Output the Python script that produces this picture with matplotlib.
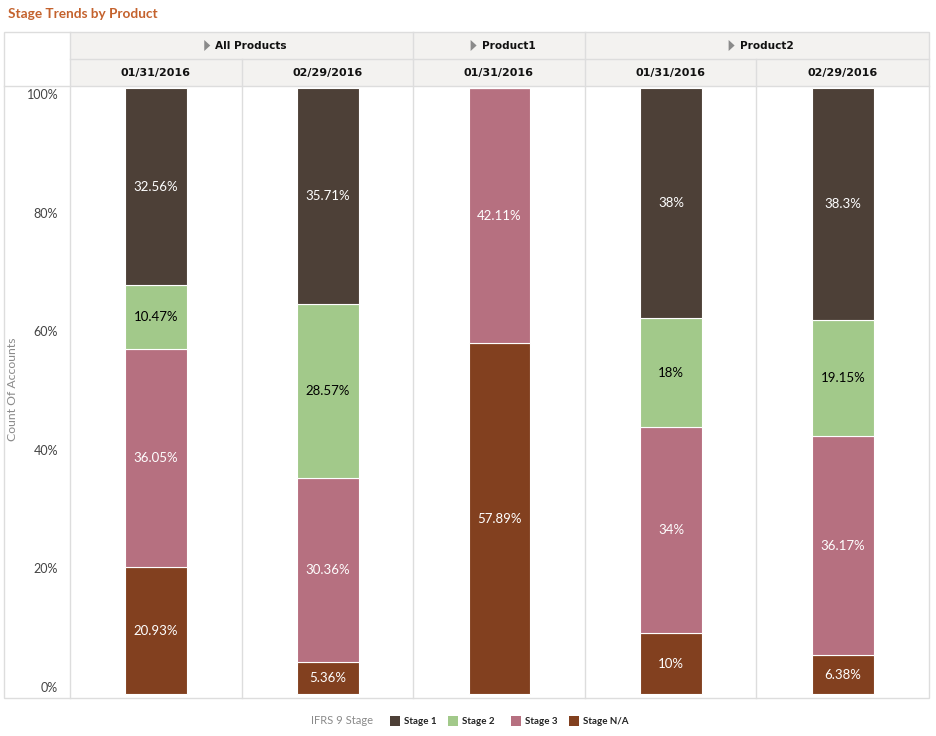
import numpy as np
import matplotlib
matplotlib.use("Agg")
from matplotlib import pyplot as plt
from matplotlib.patches import Rectangle, Polygon

# data
groups = ["All Products", "Product1", "Product2"]
group_sizes = [2, 1, 2]
dates = ["01/31/2016", "02/29/2016", "01/31/2016", "01/31/2016", "02/29/2016"]
stages = ["Stage 1", "Stage 2", "Stage 3", "Stage N/A"]
stage_na = [20.93, 5.36, 57.89, 10, 6.38]
stage_3 = [36.05, 30.36, 42.11, 34, 36.17]
stage_2 = [10.47, 28.57, 0, 18, 19.15]
stage_1 = [32.56, 35.71, 0, 38, 38.3]
ytick_labels = ["0%", "20%", "40%", "60%", "80%", "100%"]

colors = {"Stage 1": "#4D4037", "Stage 2": "#A2C98A",
          "Stage 3": "#B67080", "Stage N/A": "#82401F"}
text_colors = {"Stage 1": "white", "Stage 2": "black",
               "Stage 3": "white", "Stage N/A": "white"}

W, H = 937, 736
fig = plt.figure(figsize=(W / 100, H / 100), dpi=100)

def fx(px):
    return px / W

def fy(py):
    return 1 - py / H

# overlay in pixel coords for header table / frame / legend
ov = fig.add_axes([0, 0, 1, 1], zorder=0)
ov.set_xlim(0, W)
ov.set_ylim(H, 0)
ov.axis("off")

line_c = "#DDDDDD"
head_bg = "#F3F2F0"
left, right, top, bottom = 4, 929, 32, 698
plot_l = 70
row1, row2 = 59, 86
col_edges = [70, 242, 413, 585, 756, 929]

ov.add_patch(Rectangle((plot_l, top), right - plot_l, row2 - top, facecolor=head_bg, edgecolor="none"))
ov.add_patch(Rectangle((left, top), right - left, bottom - top, facecolor="none", edgecolor=line_c, lw=1))
ov.plot([left, right], [row2, row2], color=line_c, lw=1)
ov.plot([plot_l, right], [row1, row1], color=line_c, lw=1)
ov.plot([plot_l, plot_l], [top, bottom], color=line_c, lw=1)
for x in col_edges[1:-1]:
    ov.plot([x, x], [row1, bottom], color=line_c, lw=1)

start = 0
renderer = fig.canvas.get_renderer()
for g, n in zip(groups, group_sizes):
    x0, x1 = col_edges[start], col_edges[start + n]
    if start > 0:
        ov.plot([x0, x0], [top, row1], color=line_c, lw=1)
    cx = (x0 + x1) / 2 + 4
    ym = (top + row1) / 2
    t = ov.text(0, ym + 0.5, g, ha="left", va="center",
                fontsize=7.6, fontweight="bold", family="DejaVu Sans", color="#111111")
    tw = t.get_window_extent(renderer).width
    unit = 6 + 5 + tw
    ux = cx - unit / 2
    t.set_x(ux + 11)
    # small gray triangle in front of the group name
    ov.add_patch(Polygon([(ux, ym - 5.5), (ux + 6, ym), (ux, ym + 5.5)],
                         closed=True, facecolor="#8A8A8A", edgecolor="none"))
    start += n

for i, d in enumerate(dates):
    cx = (col_edges[i] + col_edges[i + 1]) / 2
    ov.text(cx, (row1 + row2) / 2 + 0.5, d, ha="center", va="center",
            fontsize=8, fontweight="bold", family="DejaVu Sans", color="#111111")

ov.text(8, 14, "Stage Trends by Product", ha="left", va="center",
        fontsize=9.8, fontweight="bold", family="Lato", color="#C4622D")
ov.text(13, 389, "Count Of Accounts", ha="center", va="center", rotation=90,
        fontsize=8.8, family="Lato", color="#8A8A8A")

# main bar axes
y0px, y1px = 694, 88
ax_top, ax_bot = 86, 698
scale = (y0px - y1px) / 100.0
ax = fig.add_axes([fx(plot_l), fy(ax_bot), fx(right) - fx(plot_l), (ax_bot - ax_top) / H], zorder=1)
ax.set_facecolor("none")
ax.set_ylim(-(ax_bot - y0px) / scale, 100 + (y1px - ax_top) / scale)
ax.set_xlim(-0.5, len(dates) - 0.5)
for s in ax.spines.values():
    s.set_visible(False)
ax.set_xticks([])

# y tick labels are spread evenly between 94px and 687px in the reference
lab_px = np.linspace(687, 94, 6)
ax.set_yticks((y0px - lab_px) / scale)
ax.set_yticklabels(ytick_labels, fontsize=9, family="Lato", color="#444444")
ax.tick_params(axis="y", length=0, pad=8.5)

x = np.arange(len(dates))
series = [("Stage N/A", stage_na), ("Stage 3", stage_3), ("Stage 2", stage_2), ("Stage 1", stage_1)]
bottoms = np.zeros(len(dates))
for name, vals in series:
    vals = np.array(vals, dtype=float)
    ax.bar(x, vals, 0.36, bottom=bottoms, color=colors[name], edgecolor="white", linewidth=0.8)
    for xi, v, b in zip(x, vals, bottoms):
        if v > 0:
            ax.text(xi, b + v / 2, f"{v:g}%", ha="center", va="center",
                    fontsize=9.5, family="Lato", color=text_colors[name])
    bottoms += vals

# legend
ov.text(342, 721, "IFRS 9 Stage", ha="center", va="center", fontsize=8,
        family="Lato", color="#8A8A8A")
leg_x = [390, 448, 511, 569]
for lx, name in zip(leg_x, stages):
    ov.add_patch(Rectangle((lx, 716), 10, 10, facecolor=colors[name], edgecolor="none"))
    ov.text(lx + 14, 721.5, name, ha="left", va="center", fontsize=7,
            fontweight="bold", family="Lato", color="#222222")

fig.savefig("out.png", dpi=100)
